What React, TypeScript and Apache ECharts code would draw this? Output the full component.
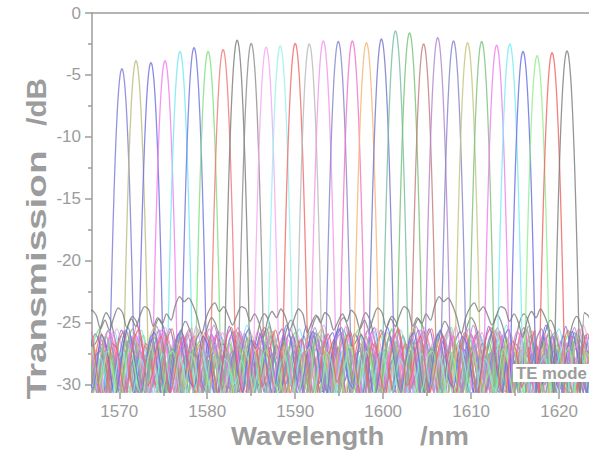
import React, { useEffect, useRef } from "react";
import * as echarts from "echarts";

// Channel peak wavelengths (nm) and peak transmissions (dB)
const PEAK_WL = [1570.3, 1571.9, 1573.6, 1575.2, 1576.9, 1578.5, 1580.1, 1581.8, 1583.4, 1585.0, 1586.7, 1588.3, 1590.0, 1591.6, 1593.2, 1594.9, 1596.5, 1598.1, 1599.8, 1601.4, 1603.0, 1604.6, 1606.2, 1608.0, 1609.6, 1611.2, 1612.9, 1614.4, 1615.9, 1617.5, 1619.2, 1620.9];
const PEAK_DB = [-4.5, -3.85, -4.0, -3.85, -3.1, -2.8, -3.1, -2.95, -2.2, -2.45, -2.75, -2.65, -2.45, -2.5, -2.25, -2.3, -2.25, -2.4, -2.1, -1.45, -1.6, -2.5, -2.0, -2.25, -2.4, -2.3, -2.6, -2.5, -3.1, -3.45, -3.2, -3.05];
const CH_COLORS = ['#7b7bdc', '#bcbc7c', '#6f6fe4', '#f27ef0', '#74e8f2', '#7474e0', '#7ee07e', '#f07878', '#7c7c7c', '#8e8e8e', '#f6a6f2', '#96f0f0', '#f06a6a', '#b8b8b8', '#f096e6', '#8686cc', '#f274c8', '#f8b474', '#7676cc', '#76bca6', '#76c276', '#c47c7c', '#b286cc', '#8686cc', '#c4c47e', '#7cc27c', '#f07cf0', '#74eef0', '#6c6ce6', '#8cf08c', '#f06464', '#7e7e7e'];

// Passband shape: attenuation (dB) below the peak at offsets 0, 0.1, ... 1.5 nm
const PROFILE_STEP = 0.1;
const PROFILE_DROP = [0, 0.13, 0.5, 1.13, 2.0, 3.1, 4.5, 6.1, 8.0, 10.1, 12.5, 15.1, 18.0, 21.1, 24.5, 28.1];

// Out-of-band noise floors (dB), sampled every 0.5 nm from 1566 nm
const NOISE_START = 1566;
const NOISE_STEP = 0.5;
const N0 = [-27.5, -25.8, -26.9, -29.2, -30.8, -28.4, -26.1, -25.4, -27.3, -29.9, -31.5, -28.7, -26.5, -27.8, -30.2, -29.1, -26.8, -25.6, -26.9, -29.4, -31.2, -29.6, -27.1, -26.3, -28.2, -30.6, -31.8, -29.3, -26.9, -25.9, -27.4, -29.8, -28.6, -26.4, -25.7, -27.9, -30.4, -31.6, -28.9, -26.7, -27.2, -29.5, -30.9, -28.1, -26.2, -25.5, -27.6, -30.1, -29.2, -27.0, -26.1, -28.3, -30.7, -29.4, -27.3, -26.0, -27.8, -29.6, -31.0];
const N1 = [-29.8, -31.2, -28.6, -26.9, -27.5, -29.7, -30.5, -28.2, -26.3, -27.1, -29.6, -31.4, -30.1, -27.8, -26.6, -28.4, -30.9, -29.2, -27.0, -28.1, -30.3, -31.7, -29.0, -27.3, -26.5, -28.8, -30.6, -29.4, -27.6, -28.9, -31.1, -30.2, -27.9, -26.8, -28.5, -30.7, -31.9, -29.1, -27.2, -28.0, -29.9, -31.3, -28.7, -26.4, -27.7, -30.0, -29.3, -27.5, -28.6, -31.0, -30.4, -28.3, -26.7, -27.4, -29.5, -31.5, -29.8, -27.9, -28.4];
const N2 = [-26.2, -28.1, -30.4, -29.0, -26.8, -25.3, -26.9, -29.3, -31.0, -28.5, -26.4, -25.8, -27.7, -30.1, -29.5, -27.2, -25.9, -26.6, -28.9, -31.3, -29.8, -27.0, -25.6, -26.8, -29.2, -30.6, -28.0, -26.1, -27.4, -29.9, -31.4, -28.8, -26.5, -25.5, -27.0, -29.6, -30.8, -28.3, -26.2, -26.9, -29.0, -31.1, -29.4, -27.1, -25.7, -26.5, -28.7, -30.9, -29.3, -26.8, -25.9, -27.5, -30.2, -31.6, -28.9, -26.6, -27.9, -30.0, -28.5];
const N3 = [-30.5, -28.2, -27.0, -28.8, -31.2, -29.9, -27.6, -28.3, -30.7, -31.8, -29.2, -27.4, -28.1, -30.3, -29.5, -27.8, -29.4, -31.5, -30.0, -28.1, -27.3, -29.0, -31.0, -29.7, -27.9, -28.6, -30.8, -31.9, -29.3, -27.5, -28.4, -30.1, -29.2, -27.7, -29.1, -31.3, -30.5, -28.4, -27.2, -28.8, -30.6, -31.7, -29.5, -27.9, -28.2, -30.0, -29.6, -28.0, -29.3, -31.4, -30.2, -28.5, -27.6, -28.9, -30.9, -29.8, -28.3, -27.7, -29.5];
const N4 = [-25.9, -27.4, -29.6, -31.0, -28.7, -26.6, -25.2, -26.4, -28.8, -30.5, -29.1, -26.9, -25.7, -27.3, -29.8, -31.2, -28.4, -26.2, -25.5, -27.1, -29.5, -30.3, -28.0, -26.0, -26.8, -29.0, -31.1, -29.4, -26.7, -25.4, -26.9, -29.2, -30.7, -28.6, -26.3, -25.8, -27.6, -30.0, -31.4, -28.9, -26.5, -25.6, -27.2, -29.7, -30.2, -27.8, -26.1, -26.7, -28.9, -31.3, -29.5, -27.0, -25.3, -26.6, -29.1, -30.6, -28.2, -26.4, -27.1];
const N5 = [-28.8, -30.9, -29.4, -27.1, -28.0, -30.3, -31.6, -28.9, -27.2, -27.9, -29.8, -30.6, -28.3, -26.9, -28.5, -31.0, -30.1, -27.7, -27.0, -29.2, -31.5, -29.6, -27.4, -28.2, -30.4, -31.2, -28.6, -26.8, -27.8, -30.0, -29.1, -27.3, -28.4, -30.8, -31.7, -29.0, -27.1, -28.1, -30.2, -30.9, -28.4, -27.0, -28.7, -31.1, -29.9, -27.6, -27.3, -29.4, -31.4, -29.7, -27.5, -28.3, -30.5, -31.3, -28.8, -27.2, -28.6, -30.7, -29.9];
const N_GRAY_A = [-24.8, -23.6, -22.9, -23.3, -23.0, -23.6, -24.6, -25.9, -24.6, -23.8, -23.4, -24.1, -23.7, -24.4, -25.2, -24.4, -23.7, -23.9, -24.9, -24.3, -25.0, -26.2, -24.8, -24.1, -24.6, -23.9, -24.5, -25.6, -24.7, -23.9, -24.3, -25.8, -25.0, -24.4, -25.0, -24.2, -24.5, -25.6, -24.9, -24.3, -24.9, -24.0, -24.4, -25.5, -24.8, -25.6, -24.6, -23.8, -24.2, -25.4, -24.7, -25.3, -24.4, -23.7, -24.0, -25.3, -24.6, -25.1, -24.3];
const N_GRAY_B = [-26.4, -25.1, -24.2, -24.8, -26.3, -27.9, -26.7, -25.2, -24.5, -25.0, -26.6, -28.2, -27.0, -25.5, -24.7, -25.3, -26.9, -28.4, -27.3, -25.8, -24.9, -25.6, -27.2, -28.6, -27.0, -25.4, -24.6, -25.2, -26.8, -28.1, -26.9, -25.3, -24.4, -25.1, -26.5, -27.8, -26.6, -25.0, -24.3, -24.9, -26.4, -28.0, -27.1, -25.6, -24.8, -25.5, -27.0, -28.3, -26.8, -25.2, -24.5, -25.2, -26.7, -28.0, -26.5, -25.1, -24.6, -25.4, -26.9];
const NOISES = [N0, N1, N2, N3, N4, N5, N_GRAY_A, N_GRAY_B];
const CH_NOISE = [0, 1, 2, 3, 4, 5, 0, 1, 7, 3, 4, 5, 0, 1, 2, 3, 4, 5, 0, 1, 2, 3, 4, 5, 0, 1, 2, 3, 4, 5, 0, 6];

const X_TICKS = [1570, 1580, 1590, 1600, 1610, 1620];
const X_MINOR = [1575, 1585, 1595, 1605, 1615];
const Y_TICKS = [0, -5, -10, -15, -20, -25, -30];
const Y_MINOR = [-2.5, -7.5, -12.5, -17.5, -22.5, -27.5];
const X_MIN = 1566.9, X_MAX = 1623.4, Y_MIN = -30.6, Y_MAX = 0;

const AXIS_COLOR = "#9c9c9c";
const TEXT_COLOR = "#9c9c9c";
const FONT = "'Liberation Sans', Arial, Helvetica, sans-serif";

function channelData(k: number) {
  const c = PEAK_WL[k];
  const p = PEAK_DB[k];
  const noise = NOISES[CH_NOISE[k]];
  const n = noise.length;
  const shift = (k * 7) % n;
  const phase = (k % 4) * 0.125;
  const halfSpan = (PROFILE_DROP.length - 1) * PROFILE_STEP + 0.05;
  const pts: number[][] = [];
  const count = Math.ceil((X_MAX - NOISE_START) / NOISE_STEP) + 2;
  for (let i = 0; i < count; i++) {
    const x = NOISE_START + i * NOISE_STEP + phase;
    if (Math.abs(x - c) <= halfSpan) continue;
    pts.push([x, noise[(i + shift) % n]]);
  }
  for (let j = -(PROFILE_DROP.length - 1); j <= PROFILE_DROP.length - 1; j++) {
    pts.push([+(c + j * PROFILE_STEP).toFixed(3), p - PROFILE_DROP[Math.abs(j)]]);
  }
  pts.sort((a, b) => a[0] - b[0]);
  return pts;
}

export default function App() {
  const ref = useRef<HTMLDivElement>(null);
  useEffect(() => {
    if (!ref.current) return;
    const chart = echarts.init(ref.current, null, { renderer: "svg" });
    const series = PEAK_WL.map((_, k) => ({
      type: "line",
      xAxisIndex: 0,
      yAxisIndex: 0,
      data: channelData(k),
      showSymbol: false,
      smooth: 0.3,
      silent: true,
      clip: true,
      lineStyle: { color: CH_COLORS[k], width: 1.3, opacity: 0.82 },
      emphasis: { disabled: true },
    }));
    const baseLabel = { color: TEXT_COLOR, fontSize: 17, fontFamily: FONT };
    chart.setOption({
      animation: false,
      backgroundColor: "#ffffff",
      grid: { left: 92, top: 13, right: 0, bottom: 59, containLabel: false },
      xAxis: [
        {
          type: "value", position: "bottom", min: X_MIN, max: X_MAX,
          axisLine: { show: false, onZero: false },
          axisTick: { show: true, customValues: X_TICKS, length: 7, lineStyle: { color: AXIS_COLOR, width: 1.5 } },
          axisLabel: { show: true, customValues: X_TICKS, margin: 11, ...baseLabel, formatter: (v: number) => String(Math.round(v)) },
          splitLine: { show: false },
        },
        {
          type: "value", position: "bottom", min: X_MIN, max: X_MAX,
          axisLine: { show: false, onZero: false },
          axisTick: { show: true, customValues: X_MINOR, length: 4, lineStyle: { color: AXIS_COLOR, width: 1.5 } },
          axisLabel: { show: false },
          splitLine: { show: false },
        },
        {
          type: "value", position: "top", min: X_MIN, max: X_MAX,
          axisLine: { show: true, onZero: false, lineStyle: { color: AXIS_COLOR, width: 1.5 } },
          axisTick: { show: false },
          axisLabel: { show: false },
          splitLine: { show: false },
        },
      ],
      yAxis: [
        {
          type: "value", position: "left", min: Y_MIN, max: Y_MAX,
          axisLine: { show: true, onZero: false, lineStyle: { color: AXIS_COLOR, width: 1.5 } },
          axisTick: { show: true, customValues: Y_TICKS, length: 7, lineStyle: { color: AXIS_COLOR, width: 1.5 } },
          axisLabel: { show: true, customValues: Y_TICKS, margin: 11, ...baseLabel, formatter: (v: number) => String(Math.round(v)) },
          splitLine: { show: false },
        },
        {
          type: "value", position: "left", min: Y_MIN, max: Y_MAX,
          axisLine: { show: false, onZero: false },
          axisTick: { show: true, customValues: Y_MINOR, length: 4, lineStyle: { color: AXIS_COLOR, width: 1.5 } },
          axisLabel: { show: false },
          splitLine: { show: false },
        },
      ],
      series,
      graphic: [
        {
          type: "text", x: 231, y: 436, scaleX: 1.1, silent: true,
          style: { text: "Wavelength", fill: TEXT_COLOR, font: `bold 25px ${FONT}`, align: "left", verticalAlign: "middle" },
        },
        {
          type: "text", x: 420, y: 436, scaleX: 1.1, silent: true,
          style: { text: "/nm", fill: TEXT_COLOR, font: `bold 25px ${FONT}`, align: "left", verticalAlign: "middle" },
        },
        {
          type: "text", x: 36, y: 275, rotation: Math.PI / 2, scaleX: 1.38, silent: true,
          style: { text: "Transmission", fill: TEXT_COLOR, font: `bold 28px ${FONT}`, align: "center", verticalAlign: "middle" },
        },
        {
          type: "text", x: 36, y: 102, rotation: Math.PI / 2, scaleX: 1.05, silent: true,
          style: { text: "/dB", fill: TEXT_COLOR, font: `bold 28px ${FONT}`, align: "center", verticalAlign: "middle" },
        },
        {
          type: "rect", silent: true, z: 100,
          shape: { x: 513, y: 364, width: 76, height: 18 },
          style: { fill: "#ffffff" },
        },
        {
          type: "text", x: 516, y: 373, z: 101, silent: true, scaleX: 1.05,
          style: { text: "TE mode", fill: TEXT_COLOR, font: `bold 16px ${FONT}`, align: "left", verticalAlign: "middle" },
        },
      ],
    });
    return () => chart.dispose();
  }, []);
  return (
    <div
      ref={ref}
      style={{ position: "fixed", left: 0, top: 0, width: 589, height: 451, background: "#fff" }}
    />
  );
}
